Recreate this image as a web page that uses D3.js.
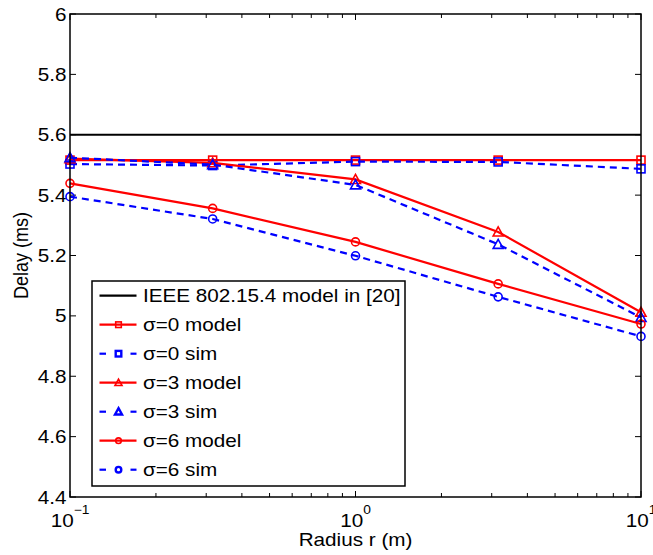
<!DOCTYPE html>
<html>
<head>
<meta charset="utf-8">
<script src="https://cdn.jsdelivr.net/npm/d3@7"></script>
<style>
  body { margin: 0; background: #fff; }
  svg { display: block; font-family: "Liberation Sans", Arial, Helvetica, sans-serif; }
</style>
</head>
<body>
<svg id="chart" width="653" height="555"></svg>
<script>
// Radius values (m), log-spaced
const radius = [0.1, 0.316, 1, 3.16, 10];

// Delay (ms) per series
const ieeeDelay = 5.6;
const sigma0Model = [5.516, 5.516, 5.516, 5.516, 5.516];
const sigma0Sim   = [5.503, 5.498, 5.511, 5.510, 5.487];
const sigma3Model = [5.521, 5.507, 5.452, 5.278, 5.012];
const sigma3Sim   = [5.524, 5.501, 5.434, 5.237, 4.995];
const sigma6Model = [5.439, 5.356, 5.245, 5.106, 4.973];
const sigma6Sim   = [5.395, 5.321, 5.199, 5.063, 4.932];

const yTicks = [4.4, 4.6, 4.8, 5, 5.2, 5.4, 5.6, 5.8, 6];
const yTickLabels = ["4.4", "4.6", "4.8", "5", "5.2", "5.4", "5.6", "5.8", "6"];
const xTicks = [0.1, 1, 10];
const xTickExponents = ["\u22121", "0", "1"];

const legendLabels = [
  "IEEE 802.15.4 model in [20]",
  "\u03c3=0 model", "\u03c3=0 sim",
  "\u03c3=3 model", "\u03c3=3 sim",
  "\u03c3=6 model", "\u03c3=6 sim"
];

const series = [
  { name: legendLabels[1], values: sigma0Model, color: "#ff0000", dash: null, marker: "square" },
  { name: legendLabels[2], values: sigma0Sim, color: "#0000ff", dash: "7,5", marker: "square" },
  { name: legendLabels[3], values: sigma3Model, color: "#ff0000", dash: null, marker: "triangle" },
  { name: legendLabels[4], values: sigma3Sim, color: "#0000ff", dash: "7,5", marker: "triangle" },
  { name: legendLabels[5], values: sigma6Model, color: "#ff0000", dash: null, marker: "circle" },
  { name: legendLabels[6], values: sigma6Sim, color: "#0000ff", dash: "7,5", marker: "circle" }
];

const svg = d3.select("#chart");
const plotL = 70, plotR = 641, plotT = 14, plotB = 497;
const fontSize = 18;
const stretch = 1.15; // horizontal text stretch

// text placed at (tx, ty), widened horizontally
function addText(parent, tx, ty, str, anchor, extra) {
  const g = parent.append("g")
    .attr("transform", `translate(${tx},${ty}) scale(${stretch},1)${extra || ""}`);
  return g.append("text").attr("text-anchor", anchor || "start")
    .attr("font-size", fontSize).text(str);
}

const x = d3.scaleLog().domain([0.1, 10]).range([plotL, plotR]);
const y = d3.scaleLinear().domain([4.4, 6]).range([plotB, plotT]);

// inward ticks on all four sides of the axes box
const minorX = [];
[0.1, 1].forEach(d => { for (let k = 2; k <= 9; k++) minorX.push(d * k); });

const tickG = svg.append("g").attr("stroke", "#000").attr("stroke-width", 1);
xTicks.forEach(v => {
  tickG.append("line").attr("x1", x(v)).attr("x2", x(v)).attr("y1", plotB).attr("y2", plotB - 6);
  tickG.append("line").attr("x1", x(v)).attr("x2", x(v)).attr("y1", plotT).attr("y2", plotT + 6);
});
minorX.forEach(v => {
  tickG.append("line").attr("x1", x(v)).attr("x2", x(v)).attr("y1", plotB).attr("y2", plotB - 4);
  tickG.append("line").attr("x1", x(v)).attr("x2", x(v)).attr("y1", plotT).attr("y2", plotT + 4);
});
yTicks.forEach(v => {
  tickG.append("line").attr("x1", plotL).attr("x2", plotL + 6).attr("y1", y(v)).attr("y2", y(v));
  tickG.append("line").attr("x1", plotR).attr("x2", plotR - 6).attr("y1", y(v)).attr("y2", y(v));
});

// y tick labels
const yLabG = svg.append("g");
yTicks.forEach((v, i) => {
  addText(yLabG, plotL - 3.5, y(v) + 6.5, yTickLabels[i], "end");
});

// x tick labels: 10 with a raised exponent
const xLabG = svg.append("g");
xTicks.forEach((v, i) => {
  const t = addText(xLabG, x(v), 527, null, "middle");
  t.append("tspan").text("10");
  t.append("tspan").attr("font-size", 12).attr("dy", -13).text(xTickExponents[i]);
});

// axis titles
addText(svg, 355.5, 546, "Radius r (m)", "middle");
addText(svg, 28, (plotT + plotB) / 2, "Delay (ms)", "middle", " rotate(-90)");

// reference model line
svg.append("line").attr("x1", plotL).attr("x2", plotR)
  .attr("y1", y(ieeeDelay)).attr("y2", y(ieeeDelay))
  .attr("stroke", "#000").attr("stroke-width", 2.2);

function drawMarker(g, type, cx, cy, color, size, sw) {
  const s = size || 1;
  const w = sw || 1.6;
  if (type === "square") {
    g.append("rect").attr("x", cx - 4 * s).attr("y", cy - 4 * s)
      .attr("width", 8 * s).attr("height", 8 * s)
      .attr("fill", "none").attr("stroke", color).attr("stroke-width", w);
  } else if (type === "triangle") {
    const h = 5 * s;
    g.append("path")
      .attr("d", `M${cx},${cy - h} L${cx + h},${cy + h * 0.8} L${cx - h},${cy + h * 0.8} Z`)
      .attr("fill", "none").attr("stroke", color).attr("stroke-width", w);
  } else {
    g.append("circle").attr("cx", cx).attr("cy", cy).attr("r", 4 * s)
      .attr("fill", "none").attr("stroke", color).attr("stroke-width", w);
  }
}

const line = d3.line().x(d => x(d[0])).y(d => y(d[1]));
series.forEach(s => {
  const pts = radius.map((r, i) => [r, s.values[i]]);
  const g = svg.append("g");
  g.append("path").attr("d", line(pts)).attr("fill", "none")
    .attr("stroke", s.color).attr("stroke-width", 2.2)
    .attr("stroke-dasharray", s.dash);
  pts.forEach(p => drawMarker(g, s.marker, x(p[0]), y(p[1]), s.color));
});

// frame
svg.append("rect").attr("x", plotL).attr("y", plotT)
  .attr("width", plotR - plotL).attr("height", plotB - plotT)
  .attr("fill", "none").attr("stroke", "#000").attr("stroke-width", 1.5);

// legend
const lg = svg.append("g");
lg.append("rect").attr("x", 92).attr("y", 281).attr("width", 313).attr("height", 205)
  .attr("fill", "#fff").attr("stroke", "#000").attr("stroke-width", 1.5);
const rowY = i => 295.7 + i * 29;
const x0 = 99.5, x1 = 136.5, xm = 118.5;
legendLabels.forEach((label, i) => {
  const cy = rowY(i);
  if (i === 0) {
    lg.append("line").attr("x1", x0).attr("x2", x1).attr("y1", cy).attr("y2", cy)
      .attr("stroke", "#000").attr("stroke-width", 2.2);
  } else {
    const s = series[i - 1];
    if (s.dash) {
      [[x0, x0 + 6.5], [x1 - 6, x1]].forEach(seg =>
        lg.append("line").attr("x1", seg[0]).attr("x2", seg[1]).attr("y1", cy).attr("y2", cy)
          .attr("stroke", s.color).attr("stroke-width", 2.2));
    } else {
      lg.append("line").attr("x1", x0).attr("x2", x1).attr("y1", cy).attr("y2", cy)
        .attr("stroke", s.color).attr("stroke-width", 2.2);
    }
    drawMarker(lg, s.marker, xm, cy, s.color, 0.7, s.dash ? 2.4 : 1.6);
  }
  addText(lg, 143, cy + 6.5, label, "start");
});
</script>
</body>
</html>
